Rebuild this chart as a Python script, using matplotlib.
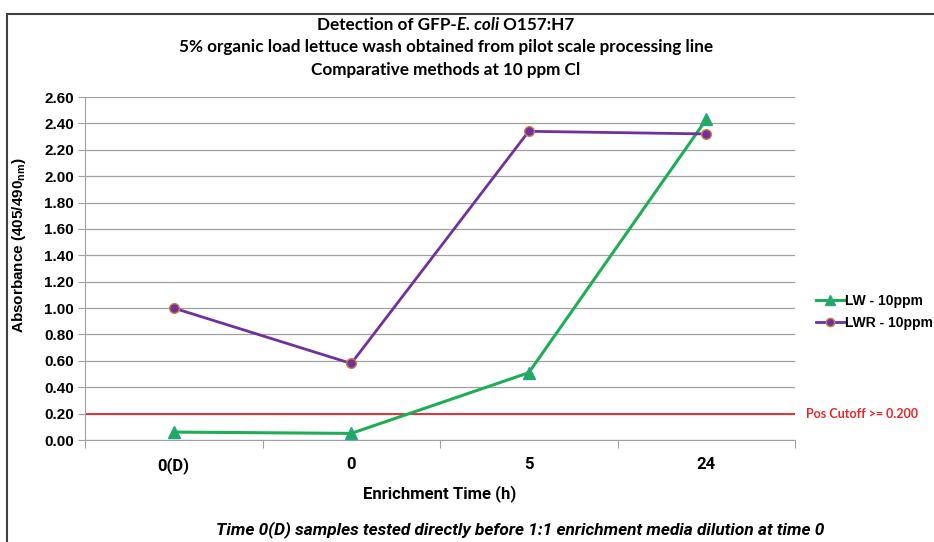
import numpy as np
import matplotlib.pyplot as plt
from matplotlib import font_manager
from matplotlib.lines import Line2D

# datos
categorias = ['0(D)', '0', '5', '24']
lw = [0.06, 0.05, 0.51, 2.43]
lwr = [1.00, 0.58, 2.34, 2.32]
corte = 0.20
yticks = np.arange(0, 2.61, 0.2)

# buscar una familia con negrita real para el titulo
negritas = {f.name for f in font_manager.fontManager.ttflist
            if (isinstance(f.weight, int) and f.weight >= 700) or f.weight == 'bold'}
titulo_f = 'Liberation Sans'
for fam in ['Lato', 'Open Sans', 'Noto Sans']:
    if fam in negritas:
        titulo_f = fam
        break
estrecha = 'Roboto'

fig = plt.figure(figsize=(9.34, 5.42), dpi=100)
ax = fig.add_axes([85/934, 102/542, 710/934, 343/542])

x = np.arange(len(categorias)) + 0.5
verde = '#1EAE55'
morado = '#7030A0'
rojo = '#E8262B'

ax.axhline(corte, color=rojo, lw=1.3, zorder=2)
ax.plot(x, lw, color=verde, lw=2.2, marker='^', ms=8, mfc=verde, mec='#2AA090', zorder=3)
ax.plot(x, lwr, color=morado, lw=2.0, marker='o', ms=7, mfc=morado, mec='#D08040', zorder=3)

ax.set_xlim(0, 4)
ax.set_ylim(0, 2.6)
ax.set_yticks(yticks)
ax.set_yticklabels(['%.2f' % v for v in yticks], fontfamily='Liberation Sans',
                   fontweight='bold', fontsize=11)
ax.set_xticks([0, 1, 2, 3, 4])
ax.set_xticklabels([])
ax.set_xticks(x, minor=True)
ax.set_xticklabels(categorias, minor=True, fontfamily=estrecha, fontweight='bold', fontsize=12)
ax.tick_params(axis='x', which='major', length=6, color='#A0A0A0', direction='out')
ax.tick_params(axis='x', which='minor', length=0, pad=12)
ax.tick_params(axis='y', length=5, color='#A0A0A0', pad=3)
ax.grid(axis='y', color='#A0A0A0', lw=0.9)
ax.set_axisbelow(True)
for s in ['top', 'right']:
    ax.spines[s].set_visible(False)
for s in ['left', 'bottom']:
    ax.spines[s].set_color('#A0A0A0')

ax.set_ylabel(r'Absorbance (405/490$\mathregular{_{nm}}$)', fontfamily='Liberation Sans',
              fontweight='bold', fontsize=11)
ax.yaxis.set_label_coords(-57/710, (440-245)/343)

# leyenda
h1 = Line2D([], [], color=verde, lw=2.2, marker='^', ms=7, mfc=verde, mec='#2AA090')
h2 = Line2D([], [], color=morado, lw=2.0, marker='o', ms=6, mfc=morado, mec='#D08040')
fig.legend([h1, h2], ['LW - 10ppm', 'LWR - 10ppm'], loc='center left',
           bbox_to_anchor=(805/934, 1-312/542), frameon=False, handlelength=2.0,
           handletextpad=0.1, labelspacing=0.6, borderpad=0.3,
           prop={'family': 'Liberation Sans', 'weight': 'bold', 'size': 10})

ax.text(4.06, corte, 'Pos Cutoff >= 0.200', color=rojo, fontfamily=titulo_f,
        fontweight='bold', fontsize=9, va='center', ha='left', clip_on=False)

# titulo con parte en cursiva
cx = 446/934
tam_t = 12.3
r = fig.canvas.get_renderer()
partes = [('Detection of GFP-', 'normal'), ('E. coli', 'italic'), (' O157:H7', 'normal')]
objs = []
for t, est in partes:
    objs.append(fig.text(0, 1-25/542, t, fontfamily=titulo_f, fontweight='bold',
                         fontstyle=est, fontsize=tam_t, va='center', ha='left'))
anchos = [o.get_window_extent(r).width for o in objs]
total = sum(anchos)
pos = cx*934 - total/2
for o, w in zip(objs, anchos):
    o.set_x(pos/934)
    pos += w
fig.text(cx, 1-47/542, '5% organic load lettuce wash obtained from pilot scale processing line',
         fontfamily=titulo_f, fontweight='bold', fontsize=tam_t, ha='center', va='center')
fig.text(cx, 1-70/542, 'Comparative methods at 10 ppm Cl',
         fontfamily=titulo_f, fontweight='bold', fontsize=tam_t, ha='center', va='center')

fig.text(440/934, 1-494/542, 'Enrichment Time (h)', fontfamily=estrecha, fontweight='bold',
         fontsize=12, ha='center', va='center')
fig.text(520/934, 1-530/542, 'Time 0(D) samples tested directly before 1:1 enrichment media dilution at time 0',
         fontfamily=estrecha, fontweight='bold', fontstyle='italic', fontsize=12.4,
         ha='center', va='center')

# marco de la figura
fig.add_artist(Line2D([7/934, 7/934], [0, 1-14/542], transform=fig.transFigure,
                      color='#404040', lw=1.5))
fig.add_artist(Line2D([7/934, 1], [1-14/542, 1-14/542], transform=fig.transFigure,
                      color='#404040', lw=1.5))

fig.savefig('out.png', dpi=100)
